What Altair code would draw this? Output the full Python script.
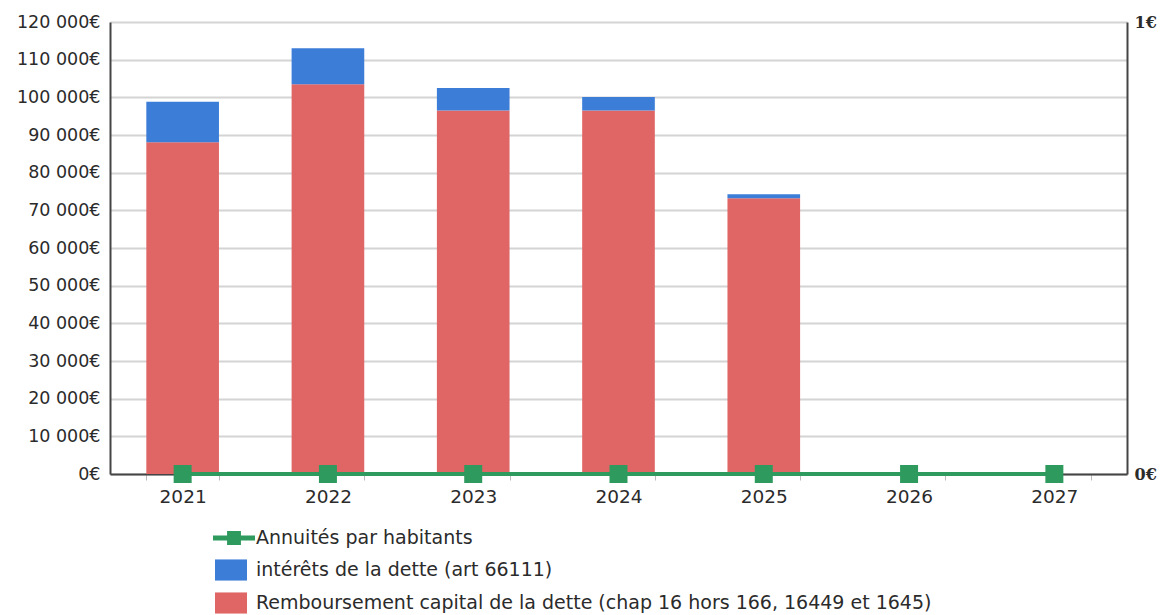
import altair as alt
import pandas as pd

years = ["2021", "2022", "2023", "2024", "2025", "2026", "2027"]
remboursement = [88100, 103500, 96500, 96500, 73200, 0, 0]
interets = [10700, 9500, 6000, 3600, 1100, 0, 0]
annuites = [0, 0, 0, 0, 0, 0, 0]

S_INT = "intérêts de la dette (art 66111)"
S_REM = "Remboursement capital de la dette (chap 16 hors 166, 16449 et 1645)"
S_ANN = "Annuités par habitants"

RED = "#E06666"
BLUE = "#3C7DD8"
GREEN = "#2E9A5E"

rows = []
for y, r, i in zip(years, remboursement, interets):
    rows.append({"year": y, "serie": S_REM, "value": r, "ord": 0})
    rows.append({"year": y, "serie": S_INT, "value": i, "ord": 1})
bars_df = pd.DataFrame(rows)
line_df = pd.DataFrame({"year": years, "annuite": annuites, "serie": [S_ANN] * len(years)})

FONT = "DejaVu Sans"
LBL = "#2b2b2b"

x_enc = alt.X(
    "year:O",
    title=None,
    scale=alt.Scale(paddingInner=0.5, paddingOuter=0.25),
    axis=alt.Axis(
        labelAngle=0, labelFont=FONT, labelFontSize=18.5, labelColor=LBL,
        labelPadding=7, tickBand="extent", tickColor="#bbbbbb", tickSize=6,
        tickWidth=1, domainColor="#444444", domainWidth=2, grid=False,
    ),
)

bars = alt.Chart(bars_df).mark_bar().encode(
    x=x_enc,
    y=alt.Y(
        "value:Q", stack="zero", title=None,
        scale=alt.Scale(domain=[0, 120000], nice=False),
        axis=alt.Axis(
            values=list(range(0, 120001, 10000)),
            labelExpr="replace(format(datum.value, ',d'), ',', ' ') + '€'",
            labelFont=FONT, labelFontSize=17.5, labelColor=LBL, labelPadding=10,
            ticks=False, domainColor="#444444", domainWidth=2,
            grid=True, gridColor="#d4d4d4", gridWidth=2,
        ),
    ),
    color=alt.Color(
        "serie:N",
        scale=alt.Scale(domain=[S_INT, S_REM], range=[BLUE, RED]),
        legend=alt.Legend(
            title=None, orient="none", legendX=105, legendY=532,
            symbolType="M-1,-0.66H1V0.66H-1Z", symbolSize=1024,
            symbolStrokeWidth=0, labelOffset=9, rowPadding=6, padding=0,
            labelFont=FONT, labelFontSize=19, labelColor=LBL, labelLimit=0,
        ),
    ),
    order=alt.Order("ord:Q"),
)

y_right = alt.Y(
    "annuite:Q", title=None,
    scale=alt.Scale(domain=[0, 1], nice=False),
    axis=alt.Axis(
        orient="right", values=[0, 1], labelExpr="datum.value + '€'",
        labelFont="DejaVu Serif", labelFontSize=16, labelFontWeight="bold",
        labelColor=LBL, labelPadding=7, ticks=False, grid=False,
        domainColor="#444444", domainWidth=2,
    ),
)

line = alt.Chart(line_df).mark_line(color=GREEN, strokeWidth=4).encode(
    x=alt.X("year:O"), y=y_right
)
squares = alt.Chart(line_df).mark_square(size=324, filled=True, opacity=1).encode(
    x=alt.X("year:O"),
    y=y_right,
    color=alt.Color(
        "serie:N",
        scale=alt.Scale(domain=[S_ANN], range=[GREEN]),
        legend=alt.Legend(
            title=None, orient="none", legendX=103, legendY=495,
            symbolType="M-1,-0.12H1V0.12H-1Z M-0.33,-0.33H0.33V0.33H-0.33Z",
            symbolSize=1764, symbolStrokeWidth=0, labelOffset=1, padding=0,
            labelFont=FONT, labelFontSize=19, labelColor=LBL, labelLimit=0,
        ),
    ),
)

right = alt.layer(line, squares)

chart = (
    alt.layer(bars, right)
    .resolve_scale(y="independent", color="independent")
    .properties(
        width=1017, height=452,
        autosize=alt.AutoSizeParams(type="none"),
        padding={"left": 110, "top": 22, "right": 38, "bottom": 141},
        background="white",
    )
    .configure_view(strokeWidth=0)
)

chart.save("out.html", embed_options={"renderer": "svg", "actions": False})
